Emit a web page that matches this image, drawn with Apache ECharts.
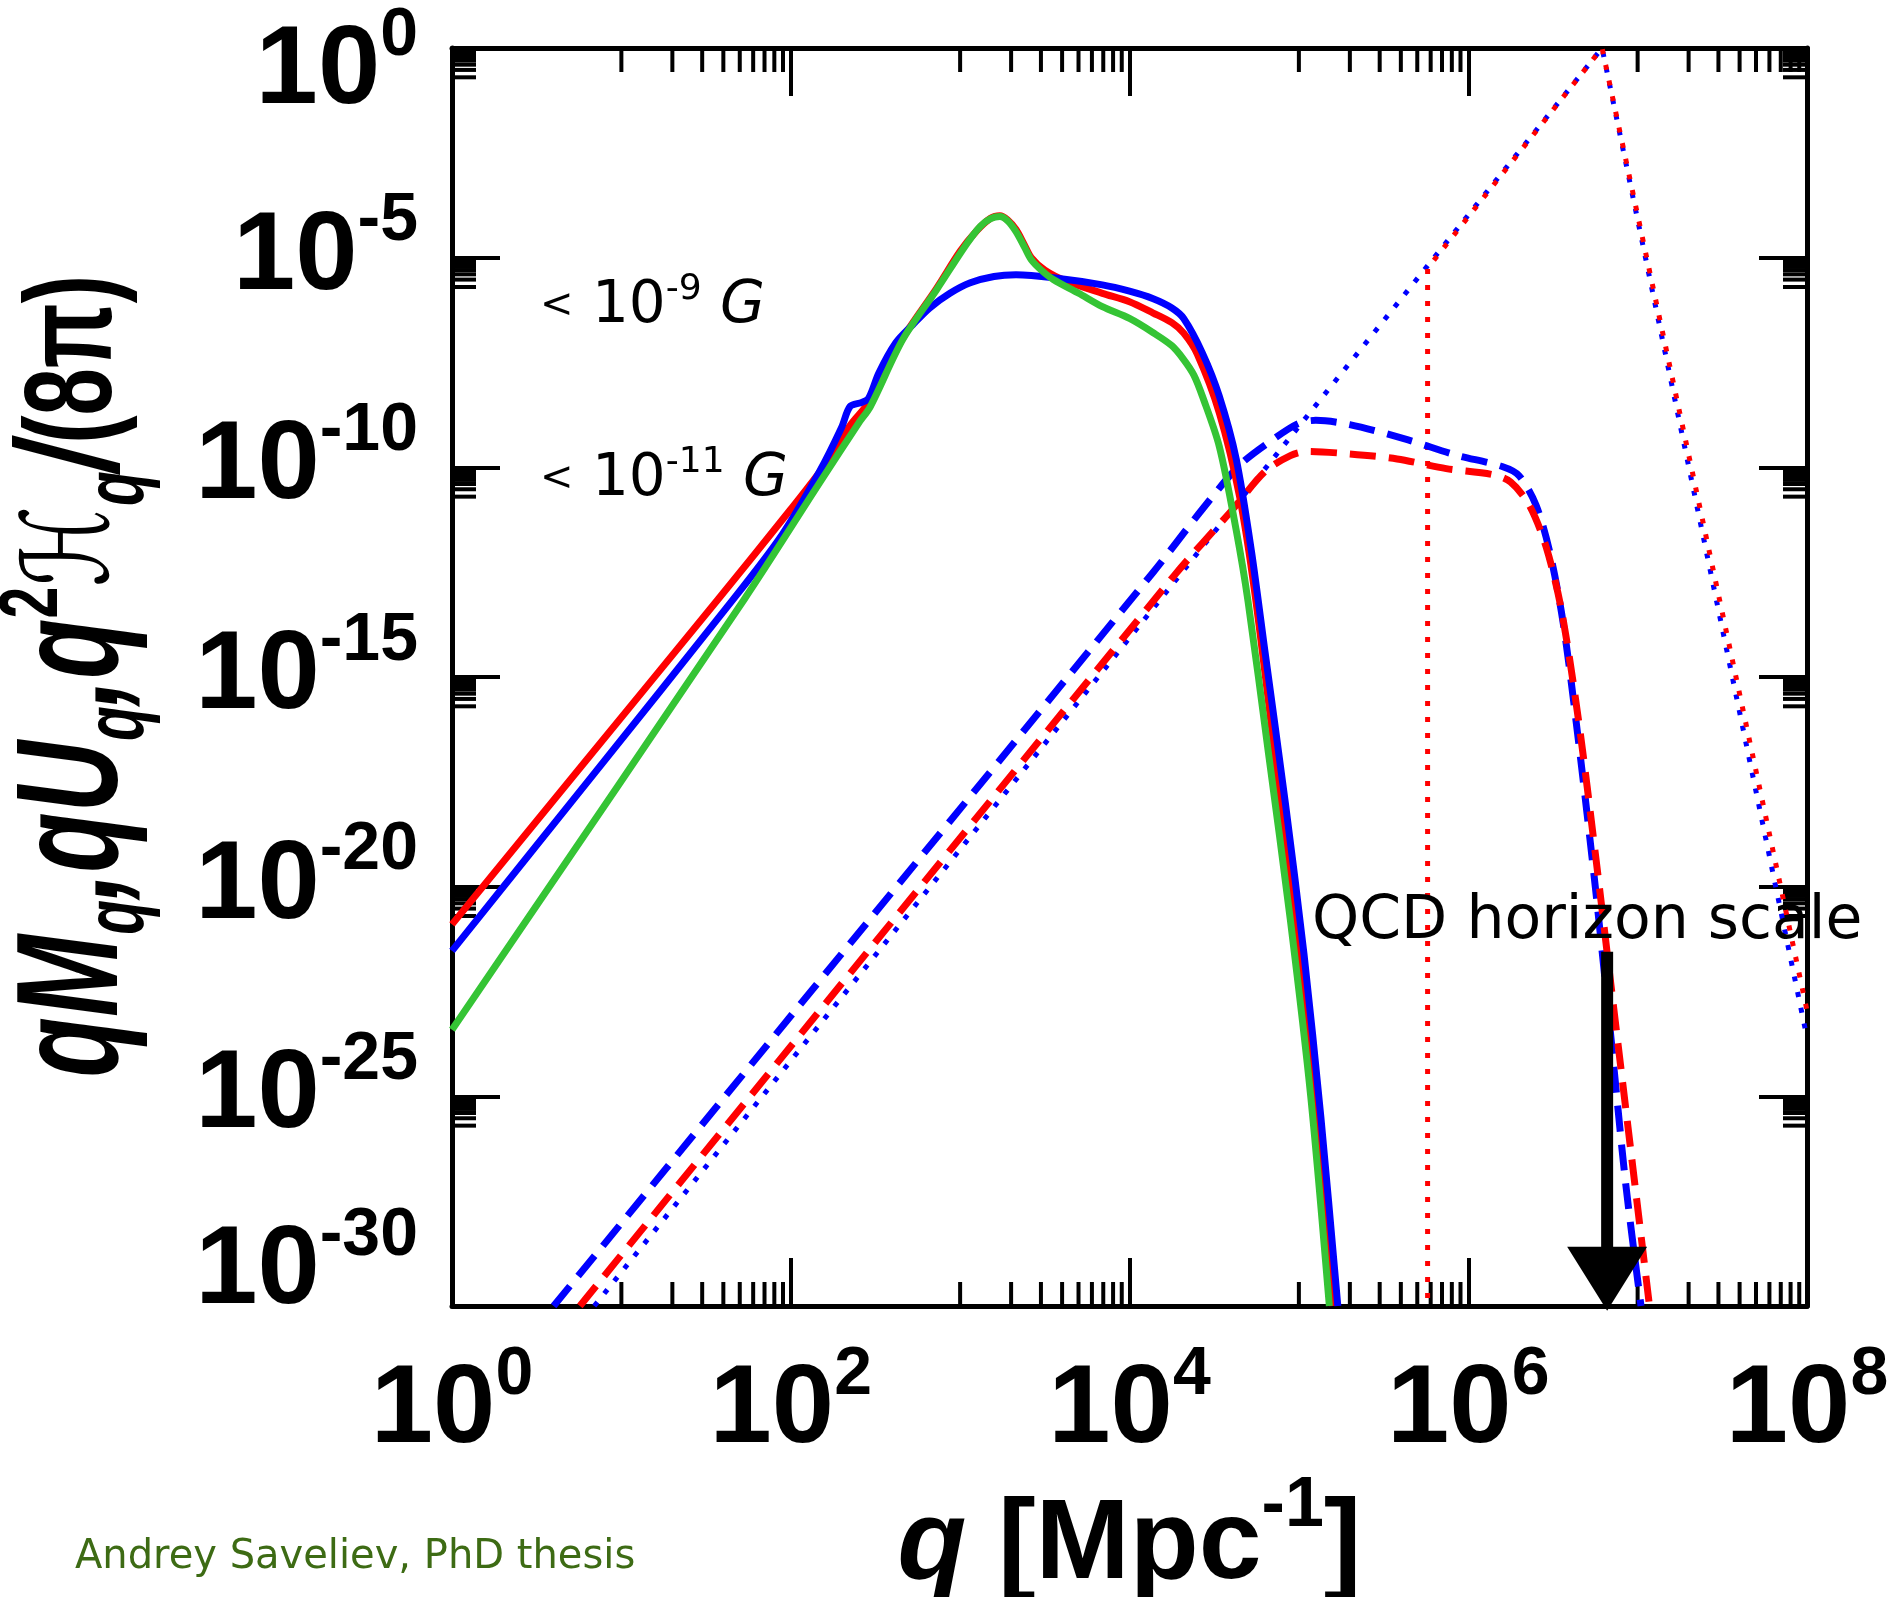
<!DOCTYPE html>
<html>
<head>
<meta charset="utf-8">
<script src="https://cdn.jsdelivr.net/npm/echarts@6/dist/echarts.min.js"></script>
<style>
html, body { margin: 0; padding: 0; background: #fff; }
#chart { width: 1891px; height: 1597px; }
</style>
</head>
<body>
<div id="chart"></div>
<script>
// every value is a decimal exponent: [log10 q, log10 y]
const xMin = 0
const xMax = 8
const yMin = -30
const yMax = 0
const xMinorDecades = [1, 3, 5, 7]
const yMinorDecades = [-1, -6, -11, -16, -21, -26]
const xMinorMult = [1, 2, 3, 4, 5, 6, 7, 8, 9]
const yMinorMult = [2, 3, 4, 5, 6, 7, 8, 9]

const redSolid = [[0, -20.9], [0.8, -16.95], [1.57, -13.15], [2.0, -11.0], [2.2, -9.95], [2.35, -9.0],
  [2.47, -8.4], [2.66, -6.93], [2.86, -5.74], [3.0, -4.85], [3.1, -4.35], [3.18, -4.06], [3.235, -4.0],
  [3.28, -4.1], [3.33, -4.33], [3.38, -4.7], [3.42, -5.0], [3.5, -5.3], [3.62, -5.55], [3.84, -5.85],
  [4.0, -6.05], [4.14, -6.32], [4.25, -6.55], [4.32, -6.8], [4.4, -7.3], [4.53, -8.7], [4.65, -10.7],
  [4.74, -13.0], [4.86, -16.9], [4.99, -21.1], [5.1, -25.2], [5.2, -30]]
const blueSolid = [[0, -21.53], [0.8, -17.5], [1.66, -13.15], [1.95, -11.6], [2.17, -10.1], [2.3, -9.05],
  [2.35, -8.55], [2.42, -8.45], [2.46, -8.35], [2.52, -7.75], [2.62, -7.03], [2.72, -6.6], [2.82, -6.2],
  [2.94, -5.85], [3.06, -5.6], [3.2, -5.45], [3.33, -5.41], [3.55, -5.48], [3.84, -5.65], [4.0, -5.8],
  [4.14, -5.98], [4.25, -6.2], [4.32, -6.45], [4.43, -7.27], [4.53, -8.3], [4.63, -9.8], [4.72, -12.0],
  [4.8, -14.4], [4.92, -18.0], [5.03, -21.6], [5.13, -25.5], [5.23, -30]]
const greenSolid = [[0, -23.41], [1.725, -13.15], [2.17, -10.37], [2.4, -8.95], [2.47, -8.55], [2.66, -6.96],
  [2.86, -5.77], [3.0, -4.9], [3.06, -4.55], [3.12, -4.25], [3.18, -4.07], [3.235, -4.02], [3.28, -4.12],
  [3.33, -4.38], [3.38, -4.75], [3.42, -5.05], [3.48, -5.3], [3.55, -5.52], [3.7, -5.85], [3.84, -6.17],
  [4.0, -6.45], [4.14, -6.79], [4.25, -7.1], [4.32, -7.43], [4.38, -7.8], [4.43, -8.3], [4.53, -9.5],
  [4.63, -11.5], [4.7, -13.2], [4.82, -16.8], [4.95, -20.8], [5.07, -25.0], [5.18, -30]]
const blueDashed = [[0.6, -30], [4.14, -12.5], [4.43, -11.0], [4.65, -9.95], [4.86, -9.3], [5.0, -8.95],
  [5.1, -8.88], [5.3, -8.98], [5.64, -9.34], [5.92, -9.7], [6.2, -9.98], [6.3, -10.2], [6.4, -10.9],
  [6.48, -12.0], [6.56, -13.7], [6.65, -16.5], [6.75, -20.0], [6.84, -23.5], [6.93, -27.1], [7.02, -30]]
const redDashed = [[0.755, -30], [4.26, -12.6], [4.61, -11.0], [4.8, -10.1], [4.95, -9.72], [5.05, -9.62],
  [5.3, -9.68], [5.58, -9.8], [5.87, -10.03], [6.14, -10.17], [6.25, -10.35], [6.36, -10.9], [6.46, -11.9],
  [6.55, -13.4], [6.65, -16.0], [6.75, -19.2], [6.85, -22.6], [6.96, -26.3], [7.07, -30]]
const blueDotted = [[0.84, -30], [6.79, 0], [8, -23.6]]
const redDotted = [[5.76, -30], [5.76, -5.25], [6.79, 0], [8, -22.95]]
const qcdArrow = [[6.82, -21.55], [6.82, -29.35]]

const black = '#000'
const red = '#ff0000'
const blue = '#0000ff'
const green = '#35c435'
const labelFont = '"Liberation Sans", Arial, Helvetica, sans-serif'
const noteFont = '"DejaVu Sans", sans-serif'

const minorTicks = []
xMinorDecades.forEach(d => xMinorMult.forEach(m => minorTicks.push([d + Math.log10(m), yMin, 0])))
yMinorDecades.forEach(d => yMinorMult.forEach(m => minorTicks.push([xMin, d + Math.log10(m), 1])))

function curve (name, data, color, width, type, extra) {
  return Object.assign({
    name,
    type: 'line',
    data,
    showSymbol: false,
    silent: true,
    lineStyle: { color, width, type, cap: 'butt', join: 'round' }
  }, extra)
}

const tickRich = {
  b: { fontFamily: labelFont, fontWeight: 'bold', fontSize: 112, lineHeight: 140, color: black },
  s: { fontFamily: labelFont, fontWeight: 'bold', fontSize: 68, lineHeight: 68, verticalAlign: 'top', color: black },
  // empty lines that push the two end labels of the y axis inside the frame
  gt: { fontSize: 10, lineHeight: 48 },
  gb: { fontSize: 10, lineHeight: 68 }
}

function yLabel (v) {
  const t = '{b|10}{s|' + v + '}'
  if (v === yMax) return '{gt| }\n' + t
  if (v === yMin) return t + '\n{gb| }'
  return t
}

function valueAxis (extra) {
  return Object.assign({
    type: 'value',
    splitLine: { show: false },
    axisLine: { show: true, onZero: false, lineStyle: { color: black, width: 5 } },
    axisTick: { show: true, inside: true, length: 48, lineStyle: { color: black, width: 4 } }
  }, extra)
}

const chart = echarts.init(document.getElementById('chart'))
chart.setOption({
  animation: false,
  backgroundColor: '#fff',
  grid: { left: 452, top: 48, right: 84, bottom: 291, containLabel: false, outerBoundsMode: 'none' },
  xAxis: [
    valueAxis({
      position: 'bottom', min: xMin, max: xMax, interval: 2,
      axisLabel: { margin: 35, formatter: v => '{b|10}{s|' + v + '}', rich: tickRich },
      name: '{qi|q}{n| [Mpc}{s|-1}{n|]}',
      nameLocation: 'middle',
      nameGap: 153,
      nameTextStyle: {
        rich: {
          qi: { fontFamily: labelFont, fontWeight: 'bold', fontStyle: 'italic', fontSize: 113, lineHeight: 150, color: black },
          n: { fontFamily: labelFont, fontWeight: 'bold', fontSize: 113, lineHeight: 150, color: black },
          s: { fontFamily: labelFont, fontWeight: 'bold', fontSize: 70, lineHeight: 70, verticalAlign: 'top', color: black }
        }
      }
    }),
    valueAxis({ position: 'top', min: xMin, max: xMax, interval: 2, axisLabel: { show: false } })
  ],
  yAxis: [
    valueAxis({
      position: 'left', min: yMin, max: yMax, interval: 5,
      axisLabel: { margin: 34, formatter: yLabel, rich: tickRich }
    }),
    valueAxis({ position: 'right', min: yMin, max: yMax, interval: 5, axisLabel: { show: false } })
  ],
  graphic: [
    {
      type: 'text', x: 77, y: 676, rotation: Math.PI / 2, scaleX: 0.68,
      style: {
        text: '{i|qM}{sub|q}{i|,qU}{sub|q}{i|,q}{sup|2}{h|ℋ}{sub|q}{i|/}{n|(8π)}',
        align: 'center',
        verticalAlign: 'middle',
        rich: {
          i: { fontFamily: labelFont, fontWeight: 'bold', fontStyle: 'italic', fontSize: 145, lineHeight: 170, fill: black },
          n: { fontFamily: labelFont, fontWeight: 'bold', fontSize: 125, lineHeight: 170, fill: black },
          sub: { fontFamily: labelFont, fontWeight: 'bold', fontStyle: 'italic', fontSize: 84, lineHeight: 84, verticalAlign: 'bottom', fill: black },
          sup: { fontFamily: labelFont, fontWeight: 'bold', fontSize: 84, lineHeight: 84, verticalAlign: 'top', fill: black },
          h: { fontFamily: '"DejaVu Serif", "DejaVu Sans", serif', fontStyle: 'italic', fontSize: 120, lineHeight: 170, fill: black }
        }
      }
    },
    {
      type: 'text', x: 540, y: 307,
      style: {
        text: '{l|<}{n| 10}{s|-9}{n| }{g|G}',
        verticalAlign: 'middle',
        rich: {
          l: { fontFamily: noteFont, fontSize: 40, lineHeight: 70, fill: black },
          n: { fontFamily: noteFont, fontSize: 58, lineHeight: 70, fill: black },
          s: { fontFamily: noteFont, fontSize: 36, lineHeight: 36, verticalAlign: 'top', fill: black },
          g: { fontFamily: noteFont, fontStyle: 'italic', fontSize: 58, lineHeight: 70, fill: black }
        }
      }
    },
    {
      type: 'text', x: 540, y: 480,
      style: {
        text: '{l|<}{n| 10}{s|-11}{n| }{g|G}',
        verticalAlign: 'middle',
        rich: {
          l: { fontFamily: noteFont, fontSize: 40, lineHeight: 70, fill: black },
          n: { fontFamily: noteFont, fontSize: 58, lineHeight: 70, fill: black },
          s: { fontFamily: noteFont, fontSize: 36, lineHeight: 36, verticalAlign: 'top', fill: black },
          g: { fontFamily: noteFont, fontStyle: 'italic', fontSize: 58, lineHeight: 70, fill: black }
        }
      }
    },
    {
      type: 'text', x: 1312, y: 922, z: 20,
      style: { text: 'QCD horizon scale', font: '60px ' + noteFont, fill: black, verticalAlign: 'middle' }
    },
    {
      type: 'text', x: 75, y: 1558,
      style: { text: 'Andrey Saveliev, PhD thesis', font: '40px ' + noteFont, fill: '#3d6b14', verticalAlign: 'middle' }
    }
  ],
  series: [
    {
      name: 'minor ticks',
      type: 'custom',
      silent: true,
      clip: false,
      data: minorTicks,
      encode: { x: 0, y: 1 },
      renderItem (params, api) {
        const len = 24
        const style = { stroke: black, lineWidth: 4 }
        if (api.value(2) === 0) {
          const b = api.coord([api.value(0), yMin])
          const t = api.coord([api.value(0), yMax])
          return {
            type: 'group',
            children: [
              { type: 'line', shape: { x1: b[0], y1: b[1], x2: b[0], y2: b[1] - len }, style },
              { type: 'line', shape: { x1: t[0], y1: t[1], x2: t[0], y2: t[1] + len }, style }
            ]
          }
        }
        const l = api.coord([xMin, api.value(1)])
        const r = api.coord([xMax, api.value(1)])
        return {
          type: 'group',
          children: [
            { type: 'line', shape: { x1: l[0], y1: l[1], x2: l[0] + len, y2: l[1] }, style },
            { type: 'line', shape: { x1: r[0], y1: r[1], x2: r[0] - len, y2: r[1] }, style }
          ]
        }
      }
    },
    curve('blue dotted', blueDotted, blue, 5, [5, 11]),
    curve('red dotted', redDotted, red, 5, [5, 11], { lineStyle: { color: red, width: 5, type: [5, 11], dashOffset: 8, cap: 'butt' } }),
    curve('blue dashed', blueDashed, blue, 7, [26, 13], { smooth: 0.3 }),
    curve('red dashed', redDashed, red, 7, [26, 13], { smooth: 0.3 }),
    curve('red solid', redSolid, red, 7, 'solid', { smooth: 0.3 }),
    curve('blue solid', blueSolid, blue, 7, 'solid', { smooth: 0.3 }),
    curve('green solid', greenSolid, green, 7, 'solid', { smooth: 0.3 }),
    {
      name: 'QCD horizon scale',
      type: 'line',
      silent: true,
      clip: false,
      symbol: 'none',
      data: [qcdArrow[0], { value: qcdArrow[1], symbol: 'triangle', symbolSize: [80, 64], symbolRotate: 180 }],
      itemStyle: { color: black },
      lineStyle: { color: black, width: 12 },
      z: 10
    }
  ]
})
</script>
</body>
</html>
